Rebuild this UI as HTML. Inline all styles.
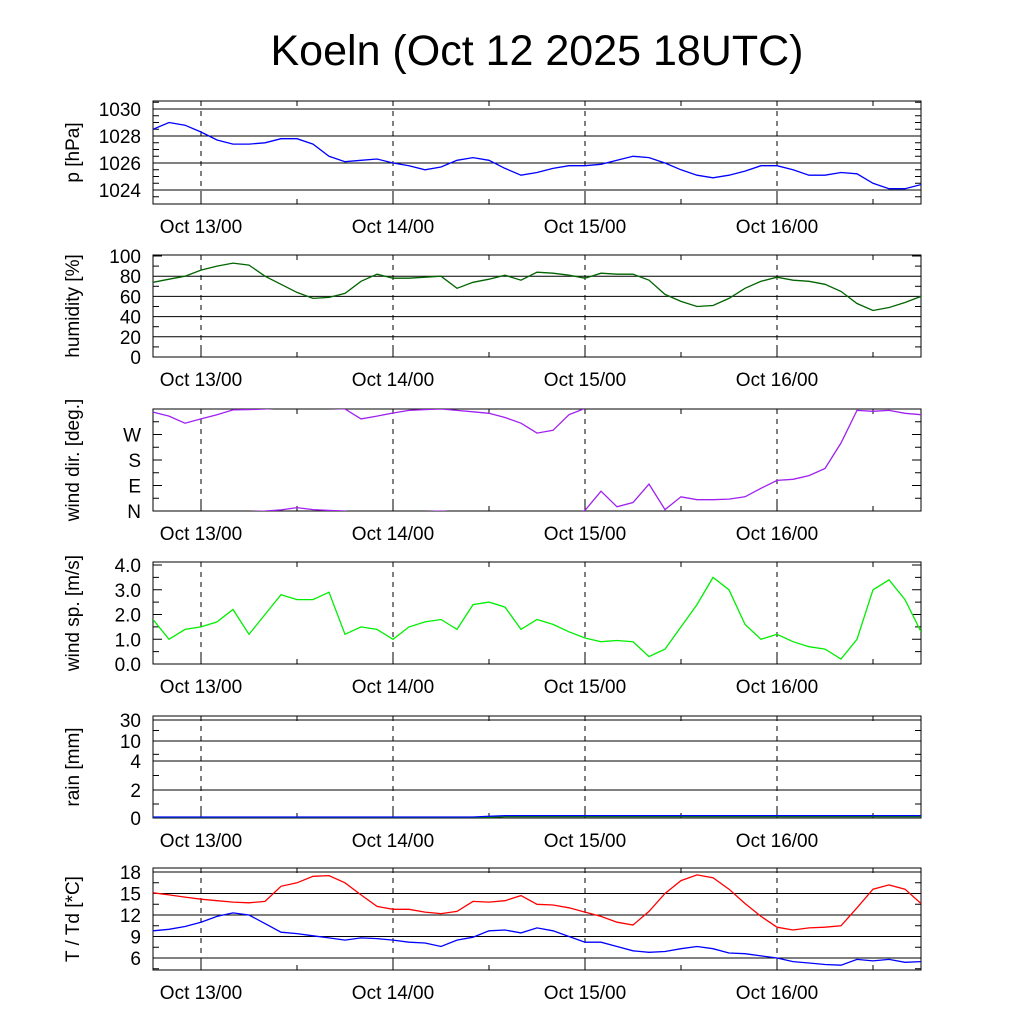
<!DOCTYPE html>
<html><head><meta charset="utf-8"><style>
html,body{margin:0;padding:0;background:#fff;}
svg{display:block;font-family:"Liberation Sans",sans-serif;}
</style></head><body>
<svg id="chart" width="1024" height="1024" viewBox="0 0 1024 1024">
<text x="537" y="65" font-size="43" text-anchor="middle">Koeln (Oct 12 2025 18UTC)</text>
</svg>
<script>
// hours from Oct 12 18UTC, every 2 hours
const hours = [0,2,4,6,8,10,12,14,16,18,20,22,24,26,28,30,32,34,36,38,40,42,44,46,48,50,52,54,56,58,60,62,64,66,68,70,72,74,76,78,80,82,84,86,88,90,92,94,96];
const dayLabels = ["Oct 13/00","Oct 14/00","Oct 15/00","Oct 16/00"];
const dayHours = [6,30,54,78];
const pressure = [1028.5,1029.0,1028.8,1028.3,1027.7,1027.4,1027.4,1027.5,1027.8,1027.8,1027.4,1026.5,1026.1,1026.2,1026.3,1026.0,1025.8,1025.5,1025.7,1026.2,1026.4,1026.2,1025.6,1025.1,1025.3,1025.6,1025.8,1025.8,1025.9,1026.2,1026.5,1026.4,1026.0,1025.5,1025.1,1024.9,1025.1,1025.4,1025.8,1025.8,1025.5,1025.1,1025.1,1025.3,1025.2,1024.5,1024.1,1024.1,1024.4];
const humidity = [74,77,80,86,90,93,91,80,72,64,58,59,63,75,82,78,78,79,80,68,74,77,81,76,84,83,81,78,83,82,82,76,62,55,50,51,58,68,75,79,76,75,72,65,53,46,49,54,60];
const windDir = [349,335,310,325,340,357,358,360,364,372,365,362,360,325,335,346,355,358,360,355,350,345,330,310,275,285,340,362,430,375,390,455,365,410,400,400,402,410,440,468,472,485,510,600,715,712,715,705,700];
const windSpeed = [1.8,1.0,1.4,1.5,1.7,2.2,1.2,2.0,2.8,2.6,2.6,2.9,1.2,1.5,1.4,1.0,1.5,1.7,1.8,1.4,2.4,2.5,2.3,1.4,1.8,1.6,1.3,1.05,0.9,0.95,0.9,0.3,0.6,1.5,2.4,3.5,3.0,1.6,1.0,1.2,0.9,0.7,0.6,0.2,1.0,3.0,3.4,2.6,1.3];
const rain = [0,0,0,0,0,0,0,0,0,0,0,0,0,0,0,0,0,0,0,0,0,0.05,0.1,0.1,0.1,0.1,0.1,0.1,0.1,0.1,0.1,0.1,0.1,0.1,0.1,0.1,0.1,0.1,0.1,0.1,0.1,0.1,0.1,0.1,0.1,0.1,0.1,0.1,0.1];
const temp = [15.1,14.8,14.5,14.2,14.0,13.8,13.7,13.9,16.0,16.5,17.4,17.5,16.5,14.8,13.2,12.8,12.8,12.4,12.2,12.5,13.9,13.8,14.0,14.7,13.5,13.4,13.0,12.4,11.8,11.0,10.6,12.5,15.0,16.8,17.6,17.2,15.6,13.6,11.8,10.3,9.9,10.2,10.3,10.5,13.0,15.6,16.2,15.6,13.6];
const dewpoint = [9.8,10.0,10.4,11.0,11.8,12.3,12.0,10.8,9.6,9.4,9.1,8.8,8.5,8.8,8.7,8.5,8.2,8.1,7.6,8.5,8.9,9.8,9.9,9.5,10.2,9.8,9.0,8.2,8.2,7.6,7.0,6.8,6.9,7.3,7.6,7.3,6.7,6.6,6.3,6.0,5.5,5.3,5.1,5.0,5.8,5.6,5.8,5.4,5.5];
const pTicks = [1024,1026,1028,1030];
const hTicks = [0,20,40,60,80,100];
const dirTicks = [0,90,180,270];
const dirLabels = ["N","E","S","W"];
const wsTicks = [0,1,2,3,4];
const wsLabels = ["0.0","1.0","2.0","3.0","4.0"];
const rainTicks = [0,2,4,10,30];
const tTicks = [6,9,12,15,18];

const NS="http://www.w3.org/2000/svg";
const svg=document.getElementById('chart');
const X0=153,X1=921;
const xs=h=>X0+(h/96)*(X1-X0);
function mk(tag,attrs,parent){const e=document.createElementNS(NS,tag);for(const k in attrs)e.setAttribute(k,attrs[k]);(parent||svg).appendChild(e);return e;}

function panel(name,top,bot,ymap,ticks,labels,grid,title,minor){
  const g=mk('g',{});
  
  
  const clipId='clip-'+name;
  const cp=mk('clipPath',{id:clipId},g);mk('rect',{x:X0,y:top,width:X1-X0,height:bot-top},cp);
  (minor||[]).forEach(v=>{const y=ymap(v);if(y<top||y>bot)return;
    mk('line',{x1:X0,x2:X0+6,y1:y,y2:y,stroke:'#000','stroke-width':1},g);
    mk('line',{x1:X1-6,x2:X1,y1:y,y2:y,stroke:'#000','stroke-width':1},g);});
  ticks.forEach((v,i)=>{const y=ymap(v);
    if(grid&&y>top+1&&y<bot-1){const l=mk('line',{x1:X0,x2:X1,y1:y,y2:y,stroke:'#000','stroke-width':1},g);
      }
    else{mk('line',{x1:X0,x2:X0+9,y1:y,y2:y,stroke:'#000'},g);mk('line',{x1:X1-9,x2:X1,y1:y,y2:y,stroke:'#000'},g);}
    const t=mk('text',{x:X0-12,y:y+7,'font-size':19,'text-anchor':'end'},g);t.textContent=labels?labels[i]:v;
    });
  dayHours.forEach((h,i)=>{const x=xs(h);
    const l=mk('line',{x1:x,x2:x,y1:top,y2:bot,stroke:'#000','stroke-dasharray':'5,5','stroke-width':1},g);
    
    mk('line',{x1:x,x2:x,y1:bot-9,y2:bot,stroke:'#000'},g);
    const t=mk('text',{x:x,y:bot+29,'font-size':19,'text-anchor':'middle'},g);t.textContent=dayLabels[i];
    });
  [18,42,66,90].forEach(h=>{const x=xs(h);mk('line',{x1:x,x2:x,y1:bot-5,y2:bot,stroke:'#000'},g);mk('line',{x1:x,x2:x,y1:top,y2:top+5,stroke:'#000'},g);});
  const r=mk('rect',{x:X0,y:top,width:X1-X0,height:bot-top,fill:'none',stroke:'#000','stroke-width':1},g);
  
  const cy=(top+bot)/2;
  const t=mk('text',{x:0,y:0,'font-size':19,'text-anchor':'middle',transform:`translate(79,${cy}) rotate(-90)`},g);t.textContent=title;
  
  return {g,clipId};
}
function line(p,vals,ymap,color,name,offset){
  let d='';vals.forEach((v,i)=>{d+=(i?'L':'M')+xs(hours[i]).toFixed(1)+','+ymap(v+(offset||0)).toFixed(1);});
  const e=mk('path',{d,fill:'none',stroke:color,'stroke-width':1.3,'clip-path':`url(#${p.clipId})`},p.g);
  
}
const lin=(v0,v1,y0,y1)=>v=>y0+(v-v0)*(y1-y0)/(v1-v0);

let ym=lin(1024,1030,190,109);
let p=panel('pressure',101,204,ym,pTicks,null,true,'p [hPa]',[1023.5,1024.5,1025,1025.5,1026.5,1027,1027.5,1028.5,1029,1029.5,1030.5]);
line(p,pressure,ym,'#0000ff','pressure-line');
ym=lin(0,100,357,256);
p=panel('humidity',255,357,ym,hTicks,null,true,'humidity [%]',[10,30,50,70,90]);
line(p,humidity,ym,'#006400','humidity-line');
ym=lin(0,360,511,409);
p=panel('wind-dir',409,511,ym,dirTicks,dirLabels,false,'wind dir. [deg.]',[45,135,225,315]);
[-720,-360,0].forEach(o=>line(p,windDir,ym,'#a020f0','wind-direction-line',o));
ym=lin(0,4,664,565);
p=panel('wind-speed',562,664,ym,wsTicks,wsLabels,false,'wind sp. [m/s]',[0.5,1.5,2.5,3.5]);
line(p,windSpeed,ym,'#00ee00','wind-speed-line');
const rV=[0,2,4,10,30],rY=[818,790,761,741,720];
ym=v=>{for(let i=1;i<rV.length;i++){if(v<=rV[i])return rY[i-1]+(v-rV[i-1])*(rY[i]-rY[i-1])/(rV[i]-rV[i-1]);}return rY[4]+(v-30)*(-0.2);};
p=panel('rain',716,818,ym,rainTicks,null,true,'rain [mm]',[1,3,6,20]);
line(p,rain,ym,'#008000','rain-convective-line');
line(p,rain,v=>ym(v)-1,'#0000ff','rain-total-line');
ym=lin(6,18,958,872);
p=panel('temperature',868,970,ym,tTicks,null,true,'T / Td [*C]',[4.5,7.5,10.5,13.5,16.5]);
line(p,temp,ym,'#ff0000','temperature-line');
line(p,dewpoint,ym,'#0000ff','dewpoint-line');
</script>
</body></html>
